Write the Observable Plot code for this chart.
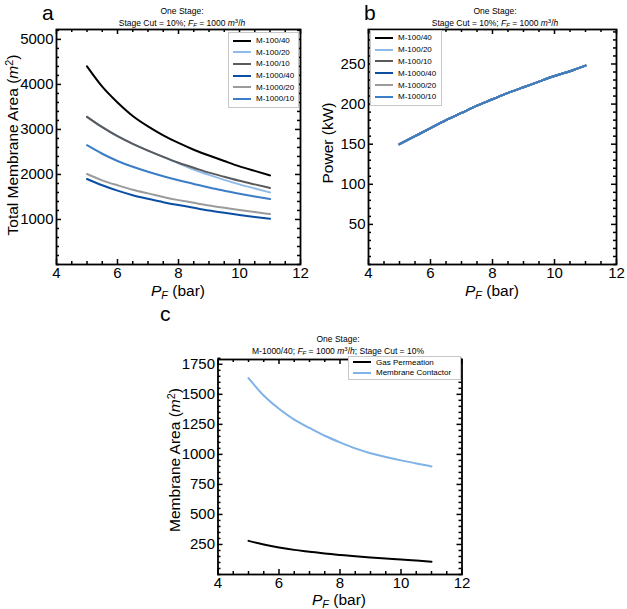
<!DOCTYPE html>
<html><head><meta charset="utf-8">
<script src="https://cdn.jsdelivr.net/npm/d3@7"></script>
<script src="https://cdn.jsdelivr.net/npm/@observablehq/plot@0.6"></script>
<style>
body{margin:0;background:#fff;font-family:"Liberation Sans",Arial,sans-serif;color:#000;}
#root{position:relative;width:627px;height:609px;overflow:hidden;}
.abs{position:absolute;white-space:nowrap;}
.letter{font-size:21px;line-height:1;}
.title{font-size:8.5px;line-height:10px;text-align:center;transform:translateX(-50%);}
.ytitle{font-size:15.5px;line-height:1;transform:translate(-50%,-50%) rotate(-90deg);}
.xtitle{font-size:15.5px;line-height:1;transform:translate(-50%,-50%);}
.sub{font-size:0.7em;vertical-align:-0.25em;font-style:italic;}
.sup{font-size:0.7em;vertical-align:0.5em;}
.legend{border:1px solid #c8c8c8;background:#fff;font-size:8px;box-sizing:border-box;}
.legend .row{display:flex;align-items:center;}
.legend .sw{display:inline-block;width:18px;height:2px;margin-right:5px;}
</style>
</head><body><div id="root"></div>
<script>
// ---- data ----
const pressure = [5, 5.5, 6, 6.5, 7, 7.5, 8, 8.5, 9, 9.5, 10, 10.5, 11];
const seriesNames = ["M-100/40", "M-100/20", "M-100/10", "M-1000/40", "M-1000/20", "M-1000/10"];
const seriesColors = ["#000000", "#8fbbe9", "#5a5a5a", "#0b4fa3", "#9b9b9b", "#3b7dc6"];
const area_M100_40 = [4400, 3950, 3600, 3300, 3070, 2870, 2700, 2550, 2420, 2300, 2180, 2080, 1980];
const area_M100_20 = [3280, 3050, 2850, 2680, 2530, 2390, 2250, 2110, 1990, 1880, 1780, 1690, 1600];
const area_M100_10 = [3280, 3050, 2850, 2680, 2530, 2390, 2260, 2150, 2040, 1950, 1860, 1780, 1700];
const area_M1000_40 = [1900, 1760, 1640, 1540, 1460, 1385, 1320, 1260, 1200, 1150, 1100, 1055, 1015];
const area_M1000_20 = [2010, 1870, 1760, 1660, 1580, 1500, 1430, 1370, 1310, 1260, 1210, 1165, 1120];
const area_M1000_10 = [2650, 2460, 2300, 2170, 2060, 1960, 1870, 1790, 1710, 1640, 1570, 1510, 1455];
const power = [150, 160, 170, 180, 189, 198, 206, 214, 221, 228, 235, 241, 248];
const methodNames = ["Gas Permeation", "Membrane Contactor"];
const methodColors = ["#000000", "#7fb2e6"];
const gasPermeation = [280, 250, 225, 205, 190, 175, 163, 152, 142, 133, 125, 116, 107];
const membraneContactor = [1635, 1490, 1380, 1290, 1220, 1155, 1100, 1050, 1010, 978, 950, 925, 900];
const xTicks = [4, 6, 8, 10, 12];
const yTicksA = [1000, 2000, 3000, 4000, 5000];
const yTicksB = [50, 100, 150, 200, 250];
const yTicksC = [250, 500, 750, 1000, 1250, 1500, 1750];

const areaSeries = [area_M100_40, area_M100_20, area_M100_10, area_M1000_40, area_M1000_20, area_M1000_10];
const areaRows = seriesNames.flatMap((s, i) => pressure.map((p, j) => ({series: s, p, v: areaSeries[i][j]})));
const powerRows = seriesNames.flatMap(s => pressure.map((p, j) => ({series: s, p, v: power[j]})));
const methodSeries = [gasPermeation, membraneContactor];
const methodRows = methodNames.flatMap((s, i) => pressure.map((p, j) => ({series: s, p, v: methodSeries[i][j]})));

const root = document.getElementById("root");
const FONT = "Liberation Sans, Arial, sans-serif";

function minorTicks(lo, hi, step, majors) {
  return d3.range(lo, hi + step / 2, step).map(v => +v.toFixed(6)).filter(v => !majors.includes(v));
}

function panel({left, top, width, height, mLeft, mRight, mTop, mBottom, yDomain, yMajor, yMinorStep, rows, names, colors}) {
  const H = height - mTop - mBottom, W = width - mLeft - mRight;
  const xMinor = minorTicks(4, 12, 0.5, xTicks);
  const yMinor = minorTicks(yDomain[0], yDomain[1], yMinorStep, yMajor);
  const maj = 5, min = 3;
  const svg = Plot.plot({
    width, height, marginLeft: mLeft, marginRight: mRight, marginTop: mTop, marginBottom: mBottom,
    style: {fontFamily: FONT, color: "#000", background: "transparent"},
    x: {domain: [4, 12]},
    y: {domain: yDomain},
    color: {domain: names, range: colors},
    marks: [
      Plot.line(rows, {x: "p", y: "v", stroke: "series", z: "series", curve: "natural", strokeWidth: 2}),
      Plot.tickX(xTicks, {x: d => d, insetTop: H - maj, strokeWidth: 1.5}),
      Plot.tickX(xTicks, {x: d => d, insetBottom: H - maj, strokeWidth: 1.5}),
      Plot.tickX(xMinor, {x: d => d, insetTop: H - min, strokeWidth: 1.5}),
      Plot.tickX(xMinor, {x: d => d, insetBottom: H - min, strokeWidth: 1.5}),
      Plot.tickY(yMajor, {y: d => d, insetRight: W - maj, strokeWidth: 1.5}),
      Plot.tickY(yMajor, {y: d => d, insetLeft: W - maj, strokeWidth: 1.5}),
      Plot.tickY(yMinor, {y: d => d, insetRight: W - min, strokeWidth: 1.5}),
      Plot.tickY(yMinor, {y: d => d, insetLeft: W - min, strokeWidth: 1.5}),
      Plot.axisX(xTicks, {tickSize: 0, tickPadding: 3, fontSize: 15, label: null, tickFormat: "d"}),
      Plot.axisY(yMajor, {tickSize: 0, tickPadding: 3, fontSize: 15, label: null, tickFormat: "d"}),
      Plot.frame({strokeWidth: 1.8})
    ]
  });
  svg.style.position = "absolute";
  svg.style.left = left + "px";
  svg.style.top = top + "px";
  root.appendChild(svg);
}

function addText(html, cls, x, y) {
  const d = document.createElement("div");
  d.className = "abs " + cls;
  d.style.left = x + "px";
  d.style.top = y + "px";
  d.innerHTML = html;
  root.appendChild(d);
}

function addLegend(names, colors, x, y, w, rowH, pad) {
  const box = document.createElement("div");
  box.className = "abs legend";
  box.style.left = x + "px"; box.style.top = y + "px"; box.style.width = w + "px";
  box.style.padding = pad;
  names.forEach((n, i) => {
    const r = document.createElement("div");
    r.className = "row"; r.style.height = rowH + "px";
    r.innerHTML = `<span class="sw" style="background:${colors[i]}"></span><span>${n}</span>`;
    box.appendChild(r);
  });
  root.appendChild(box);
}

// panel a
panel({left: 0, top: 0, width: 310, height: 300, mLeft: 56, mRight: 10, mTop: 29, mBottom: 36,
  yDomain: [0, 5220], yMajor: yTicksA, yMinorStep: 200, rows: areaRows, names: seriesNames, colors: seriesColors});
// panel b
panel({left: 310, top: 0, width: 317, height: 300, mLeft: 58, mRight: 11, mTop: 29, mBottom: 36,
  yDomain: [0, 293], yMajor: yTicksB, yMinorStep: 10, rows: powerRows, names: seriesNames, colors: seriesColors});
// panel c
panel({left: 160, top: 300, width: 320, height: 309, mLeft: 57.5, mRight: 18.5, mTop: 59, mBottom: 35,
  yDomain: [0, 1790], yMajor: yTicksC, yMinorStep: 50, rows: methodRows, names: methodNames, colors: methodColors});

const flowText = `<i>F</i><span class="sub">F</span> = 1000 <i>m</i><span class="sup">3</span>/<i>h</i>`;
addText("a", "letter", 42, 2);
addText("b", "letter", 364, 2);
addText("c", "letter", 160, 303);
addText(`One Stage:<br>Stage Cut = 10%; ${flowText}`, "title", 182, 6);
addText(`One Stage:<br>Stage Cut = 10%; ${flowText}`, "title", 495, 6);
addText(`One Stage:<br>M-1000/40; ${flowText}; Stage Cut = 10%`, "title", 338, 334);

const pf = `<i>P</i><span class="sub">F</span> (bar)`;
addText(pf, "xtitle", 178, 292);
addText(pf, "xtitle", 492, 292);
addText(pf, "xtitle", 339, 601);
addText(`Total Membrane Area (<i>m</i><span class="sup">2</span>)`, "ytitle", 12, 145);
addText(`Power (kW)`, "ytitle", 328, 143);
addText(`Membrane Area (<i>m</i><span class="sup">2</span>)`, "ytitle", 174, 460);

addLegend(seriesNames, seriesColors, 228, 32, 71, 11.6, "2px 0 2px 4px");
addLegend(seriesNames, seriesColors, 370, 30, 72, 11.8, "1px 0 2px 4px");
addLegend(methodNames, methodColors, 348, 356, 113, 10.5, "0 0 1px 4px");
</script></body></html>
